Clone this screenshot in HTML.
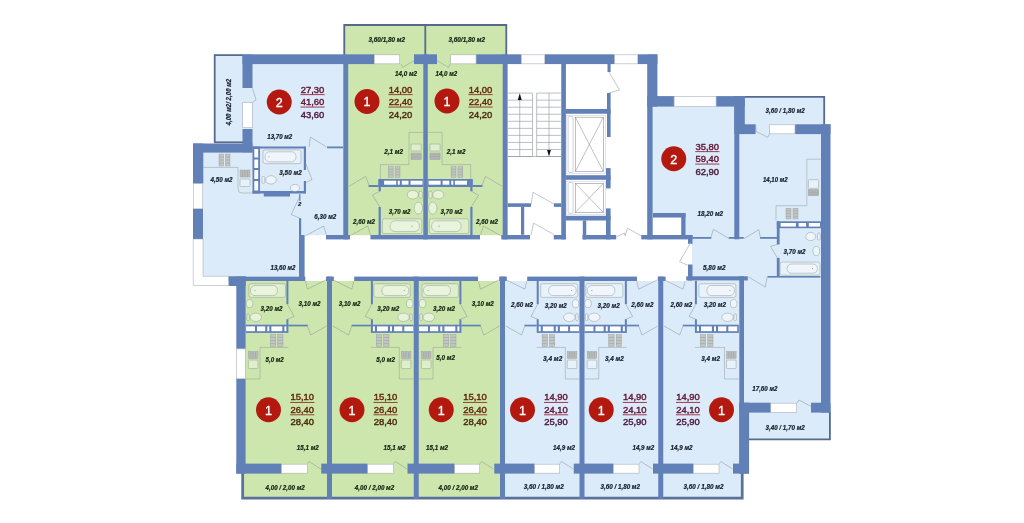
<!DOCTYPE html>
<html lang="ru"><head><meta charset="utf-8"><title>План этажа</title>
<style>
html,body{margin:0;padding:0;background:#fff;}
body{width:1024px;height:523px;overflow:hidden;}
svg{display:block;font-family:"Liberation Sans",sans-serif;filter:blur(0.35px);}
.lb{font-size:7.1px;font-weight:bold;font-style:italic;fill:#141c2a;stroke:#141c2a;stroke-width:0.2px;}
.lg{font-size:7.1px;font-weight:bold;font-style:italic;fill:#12200f;stroke:#12200f;stroke-width:0.2px;}
.nb{font-size:8.5px;fill:#64193a;stroke:#64193a;stroke-width:0.4px;}
.ng{font-size:8.5px;fill:#642a10;stroke:#642a10;stroke-width:0.4px;}
.cn{font-size:12.5px;fill:#fff;stroke:#fff;stroke-width:0.35px;text-anchor:middle;}
</style></head><body>
<svg width="1024" height="523" viewBox="0 0 1024 523">
<rect x="214" y="54.5" width="29" height="88" fill="#dcebf9" />
<rect x="243" y="63" width="101" height="172.3" fill="#dcebf9" />
<rect x="203" y="152" width="97" height="124.5" fill="#dcebf9" />
<rect x="343.5" y="24.3" width="163.5" height="30.7" fill="#cde6ae" />
<rect x="347" y="54.5" width="156" height="180.8" fill="#cde6ae" />
<rect x="652" y="106.4" width="170" height="132.6" fill="#dcebf9" />
<rect x="744.5" y="96.25" width="80.2" height="28.25" fill="#dcebf9" />
<rect x="692" y="238" width="130" height="42" fill="#dcebf9" />
<rect x="743" y="276" width="79" height="136.6" fill="#dcebf9" />
<rect x="748.75" y="412" width="81.65" height="27.9" fill="#dcebf9" />
<rect x="653" y="217.5" width="28.5" height="17.5" fill="#fff" />
<rect x="241.5" y="281" width="261" height="217.5" fill="#cde6ae" />
<rect x="502.5" y="281" width="241" height="217.5" fill="#dcebf9" />
<polyline points="214.7,142.5 214.7,55.2 243,55.2" fill="none" stroke="#566a8e" stroke-width="1.8"/>
<polyline points="214,142.3 243,142.3" fill="none" stroke="#566a8e" stroke-width="1.8"/>
<polyline points="344.3,55 344.3,25 506.3,25 506.3,55" fill="none" stroke="#566a8e" stroke-width="1.8"/>
<polyline points="425.3,25 425.3,55" fill="none" stroke="#566a8e" stroke-width="1.8"/>
<polyline points="744.5,96.9 824.2,96.9 824.2,124.3" fill="none" stroke="#566a8e" stroke-width="1.8"/>
<polyline points="749,439.4 829.9,439.4 829.9,412" fill="none" stroke="#566a8e" stroke-width="1.8"/>
<polyline points="242.7,473 242.7,498.1 742.2,498.1 742.2,473" fill="none" stroke="#5a719b" stroke-width="2.7"/>
<rect x="242.5" y="54.3" width="131.5" height="9.8" fill="#6180b8" />
<rect x="414" y="54.3" width="23" height="9.8" fill="#6180b8" />
<rect x="476.25" y="54.3" width="45" height="9.8" fill="#6180b8" />
<rect x="545" y="54.3" width="69.5" height="9.8" fill="#6180b8" />
<rect x="638" y="54.3" width="19.4" height="9.8" fill="#6180b8" />
<rect x="374.25" y="54.85" width="25.5" height="9" fill="#fff" stroke="#9aa3ad" stroke-width="0.5"/>
<rect x="450.75" y="54.85" width="25.25" height="9" fill="#fff" stroke="#9aa3ad" stroke-width="0.5"/>
<rect x="521.5" y="54.85" width="23.25" height="9" fill="#fff" stroke="#9aa3ad" stroke-width="0.5"/>
<rect x="614.75" y="54.85" width="23" height="9" fill="#fff" stroke="#9aa3ad" stroke-width="0.5"/>
<rect x="242.5" y="54.5" width="10" height="33.5" fill="#6180b8" />
<rect x="242.75" y="102.75" width="9.5" height="25" fill="#fff" stroke="#9aa3ad" stroke-width="0.5"/>
<rect x="242.5" y="129" width="10" height="23.25" fill="#6180b8" />
<rect x="193" y="143.5" width="59.5" height="9.1" fill="#6180b8" />
<rect x="193" y="143.5" width="10.3" height="40" fill="#6180b8" />
<rect x="193.25" y="183.75" width="9.5" height="25" fill="#fff" stroke="#9aa3ad" stroke-width="0.5"/>
<rect x="193" y="209" width="10" height="30" fill="#6180b8" />
<path d="M193.25 239 H203 V276.3 H228.75 V285.5 H193.25 Z" fill="#fff" stroke="#9aa3ad" stroke-width="0.5"/>
<rect x="343.3" y="63" width="4.9" height="176.4" fill="#6180b8" />
<rect x="423.3" y="54.5" width="4.5" height="184.9" fill="#6180b8" />
<rect x="502.7" y="54.5" width="4.9" height="184.9" fill="#6180b8" />
<rect x="561.25" y="63" width="4.65" height="176.4" fill="#6180b8" />
<rect x="647.2" y="54.5" width="10.2" height="52.1" fill="#6180b8" />
<rect x="647.2" y="106" width="5.4" height="133.4" fill="#6180b8" />
<rect x="326" y="235" width="24" height="4.4" fill="#6180b8" />
<rect x="370.5" y="235" width="109.5" height="4.4" fill="#6180b8" />
<rect x="501.25" y="235" width="28.75" height="4.4" fill="#6180b8" />
<rect x="553.75" y="235" width="12" height="4.4" fill="#6180b8" />
<rect x="582.5" y="235" width="33.75" height="4.4" fill="#6180b8" />
<rect x="641.25" y="235" width="51.25" height="4.4" fill="#6180b8" />
<rect x="299" y="235" width="5.6" height="46" fill="#6180b8" />
<rect x="299" y="218.2" width="2.2" height="16.8" fill="#6180b8" />
<rect x="252.5" y="146.5" width="52.5" height="2" fill="#6180b8" />
<rect x="303.8" y="146.5" width="2.2" height="23.5" fill="#6180b8" />
<rect x="303.8" y="181" width="2.2" height="12.5" fill="#6180b8" />
<rect x="252.5" y="191" width="52.5" height="2.5" fill="#6180b8" />
<rect x="263.75" y="192.5" width="26.25" height="4" fill="#6180b8" />
<rect x="252.5" y="146.5" width="7.5" height="47" fill="#6180b8" />
<rect x="254.3" y="149" width="3.9" height="8.5" fill="#fff" />
<rect x="254.3" y="159.5" width="3.9" height="8.5" fill="#fff" />
<rect x="254.3" y="170" width="3.9" height="9" fill="#fff" />
<rect x="254.3" y="181" width="3.9" height="9.5" fill="#fff" />
<rect x="327" y="146.5" width="16" height="1.8" fill="#6180b8" />
<polyline points="508,93.1 532.5,93.1" fill="none" stroke="#8e949b" stroke-width="0.6"/>
<polyline points="536.7,93.1 560.8,93.1" fill="none" stroke="#8e949b" stroke-width="0.6"/>
<polyline points="508,100.15 532.5,100.15" fill="none" stroke="#8e949b" stroke-width="0.6"/>
<polyline points="536.7,100.15 560.8,100.15" fill="none" stroke="#8e949b" stroke-width="0.6"/>
<polyline points="508,107.2 532.5,107.2" fill="none" stroke="#8e949b" stroke-width="0.6"/>
<polyline points="536.7,107.2 560.8,107.2" fill="none" stroke="#8e949b" stroke-width="0.6"/>
<polyline points="508,114.25 532.5,114.25" fill="none" stroke="#8e949b" stroke-width="0.6"/>
<polyline points="536.7,114.25 560.8,114.25" fill="none" stroke="#8e949b" stroke-width="0.6"/>
<polyline points="508,121.3 532.5,121.3" fill="none" stroke="#8e949b" stroke-width="0.6"/>
<polyline points="536.7,121.3 560.8,121.3" fill="none" stroke="#8e949b" stroke-width="0.6"/>
<polyline points="508,128.35 532.5,128.35" fill="none" stroke="#8e949b" stroke-width="0.6"/>
<polyline points="536.7,128.35 560.8,128.35" fill="none" stroke="#8e949b" stroke-width="0.6"/>
<polyline points="508,135.4 532.5,135.4" fill="none" stroke="#8e949b" stroke-width="0.6"/>
<polyline points="536.7,135.4 560.8,135.4" fill="none" stroke="#8e949b" stroke-width="0.6"/>
<polyline points="508,142.45 532.5,142.45" fill="none" stroke="#8e949b" stroke-width="0.6"/>
<polyline points="536.7,142.45 560.8,142.45" fill="none" stroke="#8e949b" stroke-width="0.6"/>
<polyline points="508,149.5 532.5,149.5" fill="none" stroke="#8e949b" stroke-width="0.6"/>
<polyline points="536.7,149.5 560.8,149.5" fill="none" stroke="#8e949b" stroke-width="0.6"/>
<polyline points="508,156.55 532.5,156.55" fill="none" stroke="#8e949b" stroke-width="0.6"/>
<polyline points="536.7,156.55 560.8,156.55" fill="none" stroke="#8e949b" stroke-width="0.6"/>
<polyline points="532.5,93.1 532.5,156.5" fill="none" stroke="#8e949b" stroke-width="0.6"/>
<polyline points="536.7,93.1 536.7,156.5" fill="none" stroke="#8e949b" stroke-width="0.6"/>
<polyline points="508,156.5 561,156.5" fill="none" stroke="#8e949b" stroke-width="0.6"/>
<polyline points="519.75,99 519.75,156.5" fill="none" stroke="#8e949b" stroke-width="0.6"/>
<polyline points="549,93.1 549,151" fill="none" stroke="#8e949b" stroke-width="0.6"/>
<path d="M519.75 93.3 L521.7 100 H517.8 Z" fill="#111"/>
<path d="M549 156.5 L550.9 150 H547.1 Z" fill="#111"/>
<rect x="507.5" y="203.3" width="23.5" height="3.6" fill="#6180b8" />
<rect x="553.9" y="203.3" width="7.6" height="3.6" fill="#6180b8" />
<rect x="521" y="206.9" width="3.2" height="27.85" fill="#6180b8" />
<rect x="565.75" y="109" width="44.85" height="4.75" fill="#6180b8" />
<rect x="565.75" y="175.2" width="44.85" height="4.6" fill="#6180b8" />
<rect x="565.75" y="215.8" width="44.85" height="4.7" fill="#6180b8" />
<rect x="582.8" y="220.5" width="3.45" height="18.9" fill="#6180b8" />
<rect x="607.5" y="63.5" width="3.1" height="8.5" fill="#6180b8" />
<rect x="607" y="93" width="3.6" height="44" fill="#6180b8" />
<rect x="606" y="168.1" width="4.6" height="20.3" fill="#6180b8" />
<rect x="606" y="208.4" width="4.6" height="31" fill="#6180b8" />
<rect x="566.6" y="115.3" width="38.8" height="58.2" fill="#fff" stroke="#c5ccd6" stroke-width="0.5"/>
<rect x="568.1" y="116.3" width="5" height="56.2" fill="#fff" stroke="#9aa0a8" stroke-width="0.5" rx="1.5"/>
<rect x="575.3" y="117.2" width="28.1" height="54.4" fill="#fff" stroke="#8e949b" stroke-width="0.6"/>
<polyline points="575.3,117.2 603.4,171.6" fill="none" stroke="#7d848c" stroke-width="0.5"/>
<polyline points="603.4,117.2 575.3,171.6" fill="none" stroke="#7d848c" stroke-width="0.5"/>
<rect x="566.6" y="181.5" width="38.8" height="32.9" fill="#fff" stroke="#c5ccd6" stroke-width="0.5"/>
<rect x="568.1" y="182.5" width="5" height="30.9" fill="#fff" stroke="#9aa0a8" stroke-width="0.5" rx="1.5"/>
<rect x="575.3" y="183.4" width="28.1" height="29.1" fill="#fff" stroke="#8e949b" stroke-width="0.6"/>
<polyline points="575.3,183.4 603.4,212.5" fill="none" stroke="#7d848c" stroke-width="0.5"/>
<polyline points="603.4,183.4 575.3,212.5" fill="none" stroke="#7d848c" stroke-width="0.5"/>
<rect x="647.2" y="96.1" width="26.7" height="10.5" fill="#6180b8" />
<rect x="674.15" y="96.65" width="41.9" height="9.7" fill="#fff" stroke="#9aa3ad" stroke-width="0.5"/>
<rect x="716.3" y="96.1" width="28.5" height="10.5" fill="#6180b8" />
<rect x="734.3" y="96.25" width="5" height="143.05" fill="#6180b8" />
<rect x="734.3" y="96.25" width="10.5" height="37.75" fill="#6180b8" />
<rect x="739" y="124.3" width="16.6" height="9.8" fill="#6180b8" />
<rect x="769.65" y="124.85" width="25.3" height="9" fill="#fff" stroke="#9aa3ad" stroke-width="0.5"/>
<rect x="795.2" y="124.3" width="35.3" height="9.8" fill="#6180b8" />
<rect x="821" y="124.3" width="9.5" height="288.3" fill="#6180b8" />
<rect x="653" y="213" width="32.5" height="4.5" fill="#6180b8" />
<rect x="681.25" y="213" width="4.25" height="25.75" fill="#6180b8" />
<rect x="688" y="235" width="4.5" height="8.75" fill="#6180b8" />
<rect x="688" y="264.5" width="4.5" height="16" fill="#6180b8" />
<rect x="686.25" y="276.3" width="61.55" height="4.2" fill="#6180b8" />
<rect x="767.5" y="276" width="53" height="1.6" fill="#6180b8" />
<rect x="692.5" y="237" width="18.75" height="1.75" fill="#6180b8" />
<rect x="728.75" y="237" width="15" height="1.75" fill="#6180b8" />
<rect x="760" y="237" width="17.5" height="1.75" fill="#6180b8" />
<rect x="776.8" y="221.3" width="2.8" height="23.2" fill="#6180b8" />
<rect x="776.8" y="257.8" width="2.8" height="19.2" fill="#6180b8" />
<rect x="776.8" y="221.3" width="44.5" height="6.9" fill="#6180b8" />
<rect x="780.6" y="223" width="15.3" height="3.6" fill="#fff" />
<rect x="798.6" y="223" width="7.5" height="3.6" fill="#fff" />
<rect x="808.8" y="223" width="11.2" height="3.6" fill="#fff" />
<rect x="739.3" y="276.25" width="4.7" height="197.35" fill="#6180b8" />
<rect x="739.3" y="402.7" width="9.8" height="70.9" fill="#6180b8" />
<rect x="739.3" y="402.7" width="31.3" height="9.9" fill="#6180b8" />
<rect x="770.85" y="403.15" width="25.9" height="9.2" fill="#fff" stroke="#9aa3ad" stroke-width="0.5"/>
<rect x="811" y="402.7" width="19.5" height="9.9" fill="#6180b8" />
<rect x="228.75" y="276.4" width="16.85" height="9.6" fill="#6180b8" />
<rect x="228.75" y="276.6" width="76.55" height="4.4" fill="#6180b8" />
<rect x="326" y="276.6" width="7.9" height="4.4" fill="#6180b8" />
<rect x="354.2" y="276.6" width="123.8" height="4.4" fill="#6180b8" />
<rect x="499.2" y="276.6" width="7.6" height="4.4" fill="#6180b8" />
<rect x="527.2" y="276.6" width="109.8" height="4.4" fill="#6180b8" />
<rect x="657.8" y="276.6" width="7.8" height="4.4" fill="#6180b8" />
<rect x="236.3" y="276.6" width="9.3" height="72.1" fill="#6180b8" />
<rect x="236.55" y="348.95" width="8.8" height="29.8" fill="#fff" stroke="#9aa3ad" stroke-width="0.5"/>
<rect x="236.3" y="379" width="9.3" height="94.6" fill="#6180b8" />
<rect x="327" y="276.6" width="5" height="222.4" fill="#6180b8" />
<rect x="413.75" y="276.6" width="5" height="222.4" fill="#6180b8" />
<rect x="500" y="276.6" width="5" height="222.4" fill="#6180b8" />
<rect x="579.5" y="276.6" width="5" height="222.4" fill="#6180b8" />
<rect x="658.25" y="276.6" width="5" height="222.4" fill="#6180b8" />
<rect x="236.3" y="463.6" width="44.95" height="10" fill="#6180b8" />
<rect x="321.25" y="463.6" width="46.25" height="10" fill="#6180b8" />
<rect x="407.5" y="463.6" width="47" height="10" fill="#6180b8" />
<rect x="494.25" y="463.6" width="40.25" height="10" fill="#6180b8" />
<rect x="573.75" y="463.6" width="39.5" height="10" fill="#6180b8" />
<rect x="653" y="463.6" width="40.25" height="10" fill="#6180b8" />
<rect x="733" y="463.6" width="15.75" height="10" fill="#6180b8" />
<rect x="281.5" y="464.15" width="25.75" height="9" fill="#fff" stroke="#9aa3ad" stroke-width="0.5"/>
<rect x="367.75" y="464.15" width="25.75" height="9" fill="#fff" stroke="#9aa3ad" stroke-width="0.5"/>
<rect x="454.75" y="464.15" width="25" height="9" fill="#fff" stroke="#9aa3ad" stroke-width="0.5"/>
<rect x="534.75" y="464.15" width="25" height="9" fill="#fff" stroke="#9aa3ad" stroke-width="0.5"/>
<rect x="613.5" y="464.15" width="25.5" height="9" fill="#fff" stroke="#9aa3ad" stroke-width="0.5"/>
<rect x="693.5" y="464.15" width="25.5" height="9" fill="#fff" stroke="#9aa3ad" stroke-width="0.5"/>
<rect x="286.4" y="280.75" width="2" height="23.45" fill="#6180b8" />
<rect x="286.4" y="319.2" width="2" height="5.8" fill="#6180b8" />
<rect x="245.7" y="324.7" width="42.7" height="8.2" fill="#6180b8" />
<rect x="284.4" y="326.4" width="2" height="4.8" fill="#fff" />
<rect x="271.4" y="326.4" width="10.9" height="4.8" fill="#fff" />
<rect x="267.3" y="326.4" width="2" height="4.8" fill="#fff" />
<rect x="257" y="326.4" width="8.2" height="4.8" fill="#fff" />
<rect x="246.1" y="326.4" width="8.9" height="4.8" fill="#fff" />
<rect x="288.4" y="324.7" width="19.4" height="1.7" fill="#6180b8" />
<polyline points="305.5,281.2 307.4,289.2 326.2,279.8" fill="none" stroke="#889096" stroke-width="0.5"/>
<polyline points="287.4,304.2 294.2,316.5 287.4,319.2" fill="none" stroke="#889096" stroke-width="0.5"/>
<polyline points="326.4,326.1 310.7,335 307.6,326.4" fill="none" stroke="#889096" stroke-width="0.5"/>
<rect x="249" y="283.7" width="36.4" height="13.7" rx="2" fill="#fff" fill-opacity="0.35" stroke="#929b9b" stroke-width="0.5"/>
<rect x="250.5" y="285.5" width="26.9" height="10.1" rx="4.5" fill="#fff" fill-opacity="0.35" stroke="#929b9b" stroke-width="0.5"/>
<circle cx="255" cy="290.5" r="0.6" fill="#929b9b"/>
<ellipse cx="249.6" cy="303.6" rx="3.3" ry="4.1" fill="#fff" fill-opacity="0.5" stroke="#929b9b" stroke-width="0.5"/>
<ellipse cx="255.8" cy="317.3" rx="5.7" ry="4.2" fill="#fff" fill-opacity="0.5" stroke="#929b9b" stroke-width="0.5"/>
<rect x="246.9" y="313.8" width="2.5" height="6.8" rx="1" fill="#fff" fill-opacity="0.35" stroke="#929b9b" stroke-width="0.5"/>
<polyline points="288.4,347.4 260,347.4 260,379 245.7,379" fill="none" stroke="#929b9b" stroke-width="0.5"/>
<rect x="270.3" y="334.4" width="5.35" height="12.3" rx="0" fill="#c3c7c4" stroke="#929b9b" stroke-width="0.4"/>
<polyline points="270.3,337.475 275.65,337.475" fill="none" stroke="#8b9090" stroke-width="0.4"/>
<polyline points="270.3,340.55 275.65,340.55" fill="none" stroke="#8b9090" stroke-width="0.4"/>
<polyline points="270.3,343.625 275.65,343.625" fill="none" stroke="#8b9090" stroke-width="0.4"/>
<rect x="277.65" y="334.4" width="5.35" height="12.3" rx="0" fill="#c3c7c4" stroke="#929b9b" stroke-width="0.4"/>
<polyline points="277.65,337.475 283,337.475" fill="none" stroke="#8b9090" stroke-width="0.4"/>
<polyline points="277.65,340.55 283,340.55" fill="none" stroke="#8b9090" stroke-width="0.4"/>
<polyline points="277.65,343.625 283,343.625" fill="none" stroke="#8b9090" stroke-width="0.4"/>
<rect x="248.4" y="351.5" width="9.6" height="6.84" rx="0" fill="#b9bdba" stroke="#929b9b" stroke-width="0.4"/>
<polyline points="250.8,352 250.8,357.84" fill="none" stroke="#8b9090" stroke-width="0.4"/>
<polyline points="253.2,352 253.2,357.84" fill="none" stroke="#8b9090" stroke-width="0.4"/>
<polyline points="255.6,352 255.6,357.84" fill="none" stroke="#8b9090" stroke-width="0.4"/>
<rect x="248.4" y="360.05" width="9.6" height="8.55" rx="0.8" fill="#fff" fill-opacity="0.35" stroke="#929b9b" stroke-width="0.5"/>
<rect x="370.9" y="280.75" width="2" height="23.45" fill="#6180b8" />
<rect x="370.9" y="319.2" width="2" height="5.8" fill="#6180b8" />
<rect x="370.9" y="324.7" width="42.7" height="8.2" fill="#6180b8" />
<rect x="372.9" y="326.4" width="2" height="4.8" fill="#fff" />
<rect x="377" y="326.4" width="10.9" height="4.8" fill="#fff" />
<rect x="390" y="326.4" width="2" height="4.8" fill="#fff" />
<rect x="394.1" y="326.4" width="8.2" height="4.8" fill="#fff" />
<rect x="404.3" y="326.4" width="8.9" height="4.8" fill="#fff" />
<rect x="351.5" y="324.7" width="19.4" height="1.7" fill="#6180b8" />
<polyline points="353.8,281.2 351.9,289.2 333.1,279.8" fill="none" stroke="#889096" stroke-width="0.5"/>
<polyline points="371.9,304.2 365.1,316.5 371.9,319.2" fill="none" stroke="#889096" stroke-width="0.5"/>
<polyline points="332.9,326.1 348.6,335 351.7,326.4" fill="none" stroke="#889096" stroke-width="0.5"/>
<rect x="373.9" y="283.7" width="36.4" height="13.7" rx="2" fill="#fff" fill-opacity="0.35" stroke="#929b9b" stroke-width="0.5"/>
<rect x="381.9" y="285.5" width="26.9" height="10.1" rx="4.5" fill="#fff" fill-opacity="0.35" stroke="#929b9b" stroke-width="0.5"/>
<circle cx="404.3" cy="290.5" r="0.6" fill="#929b9b"/>
<ellipse cx="409.7" cy="303.6" rx="3.3" ry="4.1" fill="#fff" fill-opacity="0.5" stroke="#929b9b" stroke-width="0.5"/>
<ellipse cx="403.5" cy="317.3" rx="5.7" ry="4.2" fill="#fff" fill-opacity="0.5" stroke="#929b9b" stroke-width="0.5"/>
<rect x="409.9" y="313.8" width="2.5" height="6.8" rx="1" fill="#fff" fill-opacity="0.35" stroke="#929b9b" stroke-width="0.5"/>
<polyline points="370.9,347.4 399.3,347.4 399.3,379 413.6,379" fill="none" stroke="#929b9b" stroke-width="0.5"/>
<rect x="376.3" y="334.4" width="5.35" height="12.3" rx="0" fill="#c3c7c4" stroke="#929b9b" stroke-width="0.4"/>
<polyline points="376.3,337.475 381.65,337.475" fill="none" stroke="#8b9090" stroke-width="0.4"/>
<polyline points="376.3,340.55 381.65,340.55" fill="none" stroke="#8b9090" stroke-width="0.4"/>
<polyline points="376.3,343.625 381.65,343.625" fill="none" stroke="#8b9090" stroke-width="0.4"/>
<rect x="383.65" y="334.4" width="5.35" height="12.3" rx="0" fill="#c3c7c4" stroke="#929b9b" stroke-width="0.4"/>
<polyline points="383.65,337.475 389,337.475" fill="none" stroke="#8b9090" stroke-width="0.4"/>
<polyline points="383.65,340.55 389,340.55" fill="none" stroke="#8b9090" stroke-width="0.4"/>
<polyline points="383.65,343.625 389,343.625" fill="none" stroke="#8b9090" stroke-width="0.4"/>
<rect x="401.3" y="351.5" width="9.6" height="6.84" rx="0" fill="#b9bdba" stroke="#929b9b" stroke-width="0.4"/>
<polyline points="403.7,352 403.7,357.84" fill="none" stroke="#8b9090" stroke-width="0.4"/>
<polyline points="406.1,352 406.1,357.84" fill="none" stroke="#8b9090" stroke-width="0.4"/>
<polyline points="408.5,352 408.5,357.84" fill="none" stroke="#8b9090" stroke-width="0.4"/>
<rect x="401.3" y="360.05" width="9.6" height="8.55" rx="0.8" fill="#fff" fill-opacity="0.35" stroke="#929b9b" stroke-width="0.5"/>
<rect x="459.4" y="280.75" width="2" height="23.45" fill="#6180b8" />
<rect x="459.4" y="319.2" width="2" height="5.8" fill="#6180b8" />
<rect x="418.7" y="324.7" width="42.7" height="8.2" fill="#6180b8" />
<rect x="457.4" y="326.4" width="2" height="4.8" fill="#fff" />
<rect x="444.4" y="326.4" width="10.9" height="4.8" fill="#fff" />
<rect x="440.3" y="326.4" width="2" height="4.8" fill="#fff" />
<rect x="430" y="326.4" width="8.2" height="4.8" fill="#fff" />
<rect x="419.1" y="326.4" width="8.9" height="4.8" fill="#fff" />
<rect x="461.4" y="324.7" width="19.4" height="1.7" fill="#6180b8" />
<polyline points="478.5,281.2 480.4,289.2 499.2,279.8" fill="none" stroke="#889096" stroke-width="0.5"/>
<polyline points="460.4,304.2 467.2,316.5 460.4,319.2" fill="none" stroke="#889096" stroke-width="0.5"/>
<polyline points="499.4,326.1 483.7,335 480.6,326.4" fill="none" stroke="#889096" stroke-width="0.5"/>
<rect x="422" y="283.7" width="36.4" height="13.7" rx="2" fill="#fff" fill-opacity="0.35" stroke="#929b9b" stroke-width="0.5"/>
<rect x="423.5" y="285.5" width="26.9" height="10.1" rx="4.5" fill="#fff" fill-opacity="0.35" stroke="#929b9b" stroke-width="0.5"/>
<circle cx="428" cy="290.5" r="0.6" fill="#929b9b"/>
<ellipse cx="422.6" cy="303.6" rx="3.3" ry="4.1" fill="#fff" fill-opacity="0.5" stroke="#929b9b" stroke-width="0.5"/>
<ellipse cx="428.8" cy="317.3" rx="5.7" ry="4.2" fill="#fff" fill-opacity="0.5" stroke="#929b9b" stroke-width="0.5"/>
<rect x="419.9" y="313.8" width="2.5" height="6.8" rx="1" fill="#fff" fill-opacity="0.35" stroke="#929b9b" stroke-width="0.5"/>
<polyline points="461.4,347.4 433,347.4 433,379 418.7,379" fill="none" stroke="#929b9b" stroke-width="0.5"/>
<rect x="443.3" y="334.4" width="5.35" height="12.3" rx="0" fill="#c3c7c4" stroke="#929b9b" stroke-width="0.4"/>
<polyline points="443.3,337.475 448.65,337.475" fill="none" stroke="#8b9090" stroke-width="0.4"/>
<polyline points="443.3,340.55 448.65,340.55" fill="none" stroke="#8b9090" stroke-width="0.4"/>
<polyline points="443.3,343.625 448.65,343.625" fill="none" stroke="#8b9090" stroke-width="0.4"/>
<rect x="450.65" y="334.4" width="5.35" height="12.3" rx="0" fill="#c3c7c4" stroke="#929b9b" stroke-width="0.4"/>
<polyline points="450.65,337.475 456,337.475" fill="none" stroke="#8b9090" stroke-width="0.4"/>
<polyline points="450.65,340.55 456,340.55" fill="none" stroke="#8b9090" stroke-width="0.4"/>
<polyline points="450.65,343.625 456,343.625" fill="none" stroke="#8b9090" stroke-width="0.4"/>
<rect x="421.4" y="351.5" width="9.6" height="6.84" rx="0" fill="#b9bdba" stroke="#929b9b" stroke-width="0.4"/>
<polyline points="423.8,352 423.8,357.84" fill="none" stroke="#8b9090" stroke-width="0.4"/>
<polyline points="426.2,352 426.2,357.84" fill="none" stroke="#8b9090" stroke-width="0.4"/>
<polyline points="428.6,352 428.6,357.84" fill="none" stroke="#8b9090" stroke-width="0.4"/>
<rect x="421.4" y="360.05" width="9.6" height="8.55" rx="0.8" fill="#fff" fill-opacity="0.35" stroke="#929b9b" stroke-width="0.5"/>
<rect x="536.7" y="280.75" width="2" height="23.45" fill="#6180b8" />
<rect x="536.7" y="319.2" width="2" height="5.8" fill="#6180b8" />
<rect x="536.7" y="324.7" width="42.9" height="8.2" fill="#6180b8" />
<rect x="538.7" y="326.4" width="2" height="4.8" fill="#fff" />
<rect x="542.8" y="326.4" width="10.9" height="4.8" fill="#fff" />
<rect x="555.8" y="326.4" width="2" height="4.8" fill="#fff" />
<rect x="559.9" y="326.4" width="8.2" height="4.8" fill="#fff" />
<rect x="570.1" y="326.4" width="8.9" height="4.8" fill="#fff" />
<rect x="524.5" y="324.7" width="12.2" height="1.7" fill="#6180b8" />
<polyline points="526.8,281.2 524.9,289.2 506.1,279.8" fill="none" stroke="#889096" stroke-width="0.5"/>
<polyline points="537.7,304.2 530.9,316.5 537.7,319.2" fill="none" stroke="#889096" stroke-width="0.5"/>
<polyline points="505.9,326.1 521.6,335 524.7,326.4" fill="none" stroke="#889096" stroke-width="0.5"/>
<rect x="540.7" y="283.7" width="37" height="13.7" rx="2" fill="#fff" fill-opacity="0.35" stroke="#929b9b" stroke-width="0.5"/>
<rect x="548.7" y="285.5" width="27.5" height="10.1" rx="4.5" fill="#fff" fill-opacity="0.35" stroke="#929b9b" stroke-width="0.5"/>
<circle cx="571.7" cy="290.5" r="0.6" fill="#929b9b"/>
<ellipse cx="575.5" cy="303.6" rx="3.3" ry="4.1" fill="#fff" fill-opacity="0.5" stroke="#929b9b" stroke-width="0.5"/>
<ellipse cx="569.3" cy="317.3" rx="5.7" ry="4.2" fill="#fff" fill-opacity="0.5" stroke="#929b9b" stroke-width="0.5"/>
<rect x="575.7" y="313.8" width="2.5" height="6.8" rx="1" fill="#fff" fill-opacity="0.35" stroke="#929b9b" stroke-width="0.5"/>
<polyline points="536.7,347.4 565.3,347.4 565.3,379 579.6,379" fill="none" stroke="#929b9b" stroke-width="0.5"/>
<rect x="542.1" y="334.4" width="5.35" height="12.3" rx="0" fill="#c3c7c4" stroke="#929b9b" stroke-width="0.4"/>
<polyline points="542.1,337.475 547.45,337.475" fill="none" stroke="#8b9090" stroke-width="0.4"/>
<polyline points="542.1,340.55 547.45,340.55" fill="none" stroke="#8b9090" stroke-width="0.4"/>
<polyline points="542.1,343.625 547.45,343.625" fill="none" stroke="#8b9090" stroke-width="0.4"/>
<rect x="549.45" y="334.4" width="5.35" height="12.3" rx="0" fill="#c3c7c4" stroke="#929b9b" stroke-width="0.4"/>
<polyline points="549.45,337.475 554.8,337.475" fill="none" stroke="#8b9090" stroke-width="0.4"/>
<polyline points="549.45,340.55 554.8,340.55" fill="none" stroke="#8b9090" stroke-width="0.4"/>
<polyline points="549.45,343.625 554.8,343.625" fill="none" stroke="#8b9090" stroke-width="0.4"/>
<rect x="567.3" y="351.5" width="9.6" height="6.84" rx="0" fill="#b9bdba" stroke="#929b9b" stroke-width="0.4"/>
<polyline points="569.7,352 569.7,357.84" fill="none" stroke="#8b9090" stroke-width="0.4"/>
<polyline points="572.1,352 572.1,357.84" fill="none" stroke="#8b9090" stroke-width="0.4"/>
<polyline points="574.5,352 574.5,357.84" fill="none" stroke="#8b9090" stroke-width="0.4"/>
<rect x="567.3" y="360.05" width="9.6" height="8.55" rx="0.8" fill="#fff" fill-opacity="0.35" stroke="#929b9b" stroke-width="0.5"/>
<rect x="624.85" y="280.75" width="2" height="23.45" fill="#6180b8" />
<rect x="624.85" y="319.2" width="2" height="5.8" fill="#6180b8" />
<rect x="584.45" y="324.7" width="42.4" height="8.2" fill="#6180b8" />
<rect x="622.85" y="326.4" width="2" height="4.8" fill="#fff" />
<rect x="609.85" y="326.4" width="10.9" height="4.8" fill="#fff" />
<rect x="605.75" y="326.4" width="2" height="4.8" fill="#fff" />
<rect x="595.45" y="326.4" width="8.2" height="4.8" fill="#fff" />
<rect x="584.85" y="326.4" width="8.6" height="4.8" fill="#fff" />
<rect x="626.85" y="324.7" width="12.2" height="1.7" fill="#6180b8" />
<polyline points="636.75,281.2 638.65,289.2 657.45,279.8" fill="none" stroke="#889096" stroke-width="0.5"/>
<polyline points="625.85,304.2 632.65,316.5 625.85,319.2" fill="none" stroke="#889096" stroke-width="0.5"/>
<polyline points="657.65,326.1 641.95,335 638.85,326.4" fill="none" stroke="#889096" stroke-width="0.5"/>
<rect x="585.85" y="283.7" width="37" height="13.7" rx="2" fill="#fff" fill-opacity="0.35" stroke="#929b9b" stroke-width="0.5"/>
<rect x="587.35" y="285.5" width="27.5" height="10.1" rx="4.5" fill="#fff" fill-opacity="0.35" stroke="#929b9b" stroke-width="0.5"/>
<circle cx="591.85" cy="290.5" r="0.6" fill="#929b9b"/>
<ellipse cx="588.05" cy="303.6" rx="3.3" ry="4.1" fill="#fff" fill-opacity="0.5" stroke="#929b9b" stroke-width="0.5"/>
<ellipse cx="594.25" cy="317.3" rx="5.7" ry="4.2" fill="#fff" fill-opacity="0.5" stroke="#929b9b" stroke-width="0.5"/>
<rect x="585.35" y="313.8" width="2.5" height="6.8" rx="1" fill="#fff" fill-opacity="0.35" stroke="#929b9b" stroke-width="0.5"/>
<polyline points="626.85,347.4 598.75,347.4 598.75,379 584.45,379" fill="none" stroke="#929b9b" stroke-width="0.5"/>
<rect x="608.75" y="334.4" width="5.35" height="12.3" rx="0" fill="#c3c7c4" stroke="#929b9b" stroke-width="0.4"/>
<polyline points="608.75,337.475 614.1,337.475" fill="none" stroke="#8b9090" stroke-width="0.4"/>
<polyline points="608.75,340.55 614.1,340.55" fill="none" stroke="#8b9090" stroke-width="0.4"/>
<polyline points="608.75,343.625 614.1,343.625" fill="none" stroke="#8b9090" stroke-width="0.4"/>
<rect x="616.1" y="334.4" width="5.35" height="12.3" rx="0" fill="#c3c7c4" stroke="#929b9b" stroke-width="0.4"/>
<polyline points="616.1,337.475 621.45,337.475" fill="none" stroke="#8b9090" stroke-width="0.4"/>
<polyline points="616.1,340.55 621.45,340.55" fill="none" stroke="#8b9090" stroke-width="0.4"/>
<polyline points="616.1,343.625 621.45,343.625" fill="none" stroke="#8b9090" stroke-width="0.4"/>
<rect x="587.15" y="351.5" width="9.6" height="6.84" rx="0" fill="#b9bdba" stroke="#929b9b" stroke-width="0.4"/>
<polyline points="589.55,352 589.55,357.84" fill="none" stroke="#8b9090" stroke-width="0.4"/>
<polyline points="591.95,352 591.95,357.84" fill="none" stroke="#8b9090" stroke-width="0.4"/>
<polyline points="594.35,352 594.35,357.84" fill="none" stroke="#8b9090" stroke-width="0.4"/>
<rect x="587.15" y="360.05" width="9.6" height="8.55" rx="0.8" fill="#fff" fill-opacity="0.35" stroke="#929b9b" stroke-width="0.5"/>
<rect x="694.9" y="280.75" width="2" height="23.45" fill="#6180b8" />
<rect x="694.9" y="319.2" width="2" height="5.8" fill="#6180b8" />
<rect x="694.9" y="324.7" width="43.9" height="8.2" fill="#6180b8" />
<rect x="696.9" y="326.4" width="2" height="4.8" fill="#fff" />
<rect x="701" y="326.4" width="10.9" height="4.8" fill="#fff" />
<rect x="714" y="326.4" width="2" height="4.8" fill="#fff" />
<rect x="718.1" y="326.4" width="8.2" height="4.8" fill="#fff" />
<rect x="728.3" y="326.4" width="8.9" height="4.8" fill="#fff" />
<rect x="682.7" y="324.7" width="12.2" height="1.7" fill="#6180b8" />
<polyline points="685,281.2 683.1,289.2 664.3,279.8" fill="none" stroke="#889096" stroke-width="0.5"/>
<polyline points="695.9,304.2 689.1,316.5 695.9,319.2" fill="none" stroke="#889096" stroke-width="0.5"/>
<polyline points="664.1,326.1 679.8,335 682.9,326.4" fill="none" stroke="#889096" stroke-width="0.5"/>
<rect x="698.9" y="283.7" width="37" height="13.7" rx="2" fill="#fff" fill-opacity="0.35" stroke="#929b9b" stroke-width="0.5"/>
<rect x="706.9" y="285.5" width="27.5" height="10.1" rx="4.5" fill="#fff" fill-opacity="0.35" stroke="#929b9b" stroke-width="0.5"/>
<circle cx="729.9" cy="290.5" r="0.6" fill="#929b9b"/>
<ellipse cx="733.7" cy="303.6" rx="3.3" ry="4.1" fill="#fff" fill-opacity="0.5" stroke="#929b9b" stroke-width="0.5"/>
<ellipse cx="727.5" cy="317.3" rx="5.7" ry="4.2" fill="#fff" fill-opacity="0.5" stroke="#929b9b" stroke-width="0.5"/>
<rect x="733.9" y="313.8" width="2.5" height="6.8" rx="1" fill="#fff" fill-opacity="0.35" stroke="#929b9b" stroke-width="0.5"/>
<polyline points="694.9,347.4 724.5,347.4 724.5,379 738.8,379" fill="none" stroke="#929b9b" stroke-width="0.5"/>
<rect x="700.3" y="334.4" width="5.35" height="12.3" rx="0" fill="#c3c7c4" stroke="#929b9b" stroke-width="0.4"/>
<polyline points="700.3,337.475 705.65,337.475" fill="none" stroke="#8b9090" stroke-width="0.4"/>
<polyline points="700.3,340.55 705.65,340.55" fill="none" stroke="#8b9090" stroke-width="0.4"/>
<polyline points="700.3,343.625 705.65,343.625" fill="none" stroke="#8b9090" stroke-width="0.4"/>
<rect x="707.65" y="334.4" width="5.35" height="12.3" rx="0" fill="#c3c7c4" stroke="#929b9b" stroke-width="0.4"/>
<polyline points="707.65,337.475 713,337.475" fill="none" stroke="#8b9090" stroke-width="0.4"/>
<polyline points="707.65,340.55 713,340.55" fill="none" stroke="#8b9090" stroke-width="0.4"/>
<polyline points="707.65,343.625 713,343.625" fill="none" stroke="#8b9090" stroke-width="0.4"/>
<rect x="726.5" y="351.5" width="9.6" height="6.84" rx="0" fill="#b9bdba" stroke="#929b9b" stroke-width="0.4"/>
<polyline points="728.9,352 728.9,357.84" fill="none" stroke="#8b9090" stroke-width="0.4"/>
<polyline points="731.3,352 731.3,357.84" fill="none" stroke="#8b9090" stroke-width="0.4"/>
<polyline points="733.7,352 733.7,357.84" fill="none" stroke="#8b9090" stroke-width="0.4"/>
<rect x="726.5" y="360.05" width="9.6" height="8.55" rx="0.8" fill="#fff" fill-opacity="0.35" stroke="#929b9b" stroke-width="0.5"/>
<rect x="378.6" y="179" width="2.2" height="12.2" fill="#6180b8" />
<rect x="378.6" y="207" width="2.2" height="28.5" fill="#6180b8" />
<rect x="378.4" y="179" width="44.9" height="8" fill="#6180b8" />
<rect x="368.6" y="185" width="9.8" height="2" fill="#6180b8" />
<rect x="384.1" y="180.7" width="12.1" height="4" fill="#fff" />
<rect x="397.8" y="180.7" width="2" height="4" fill="#fff" />
<rect x="401.8" y="180.7" width="6.7" height="4" fill="#fff" />
<rect x="410.5" y="180.7" width="12" height="4" fill="#fff" />
<polyline points="348.9,186.3 365.6,176.4 369.5,186.3" fill="none" stroke="#889096" stroke-width="0.5"/>
<polyline points="350.5,235.5 367.8,226 370.4,234.8" fill="none" stroke="#889096" stroke-width="0.5"/>
<polyline points="379.9,191.2 372.5,195.2 379.9,207" fill="none" stroke="#889096" stroke-width="0.5"/>
<polyline points="401,64 402.6,67.4 414.2,60.5" fill="none" stroke="#889096" stroke-width="0.5"/>
<polyline points="423,132.4 409,132.4 409,164.6 380.4,164.6 380.4,179" fill="none" stroke="#929b9b" stroke-width="0.5"/>
<rect x="388.3" y="166.6" width="4.85" height="10.8" rx="0" fill="#c3c7c4" stroke="#929b9b" stroke-width="0.4"/>
<polyline points="388.3,169.3 393.15,169.3" fill="none" stroke="#8b9090" stroke-width="0.4"/>
<polyline points="388.3,172 393.15,172" fill="none" stroke="#8b9090" stroke-width="0.4"/>
<polyline points="388.3,174.7 393.15,174.7" fill="none" stroke="#8b9090" stroke-width="0.4"/>
<rect x="395.15" y="166.6" width="4.85" height="10.8" rx="0" fill="#c3c7c4" stroke="#929b9b" stroke-width="0.4"/>
<polyline points="395.15,169.3 400,169.3" fill="none" stroke="#8b9090" stroke-width="0.4"/>
<polyline points="395.15,172 400,172" fill="none" stroke="#8b9090" stroke-width="0.4"/>
<polyline points="395.15,174.7 400,174.7" fill="none" stroke="#8b9090" stroke-width="0.4"/>
<rect x="411" y="144" width="10.2" height="7" rx="0.8" fill="#fff" fill-opacity="0.35" stroke="#929b9b" stroke-width="0.5"/>
<rect x="411" y="153" width="10.2" height="6.7" rx="0" fill="#b9bdba" stroke="#929b9b" stroke-width="0.4"/>
<polyline points="411,154.675 421.2,154.675" fill="none" stroke="#8b9090" stroke-width="0.4"/>
<polyline points="411,156.35 421.2,156.35" fill="none" stroke="#8b9090" stroke-width="0.4"/>
<polyline points="411,158.025 421.2,158.025" fill="none" stroke="#8b9090" stroke-width="0.4"/>
<ellipse cx="412.8" cy="194.7" rx="5.6" ry="4.3" fill="#fff" fill-opacity="0.5" stroke="#929b9b" stroke-width="0.5"/>
<rect x="419" y="191.3" width="3.3" height="6.9" rx="1" fill="#fff" fill-opacity="0.35" stroke="#929b9b" stroke-width="0.5"/>
<ellipse cx="418.3" cy="208.1" rx="4.2" ry="6" fill="#fff" fill-opacity="0.5" stroke="#929b9b" stroke-width="0.5"/>
<rect x="382.4" y="218.8" width="39.4" height="14.8" rx="2" fill="#fff" fill-opacity="0.35" stroke="#929b9b" stroke-width="0.5"/>
<rect x="390" y="220.8" width="29.5" height="10.8" rx="5" fill="#fff" fill-opacity="0.35" stroke="#929b9b" stroke-width="0.5"/>
<circle cx="412" cy="226.2" r="0.6" fill="#929b9b"/>
<rect x="470.3" y="179" width="2.2" height="12.2" fill="#6180b8" />
<rect x="470.3" y="207" width="2.2" height="28.5" fill="#6180b8" />
<rect x="427.8" y="179" width="44.9" height="8" fill="#6180b8" />
<rect x="472.7" y="185" width="9.8" height="2" fill="#6180b8" />
<rect x="454.9" y="180.7" width="12.1" height="4" fill="#fff" />
<rect x="451.3" y="180.7" width="2" height="4" fill="#fff" />
<rect x="442.6" y="180.7" width="6.7" height="4" fill="#fff" />
<rect x="428.6" y="180.7" width="12" height="4" fill="#fff" />
<polyline points="502.2,186.3 485.5,176.4 481.6,186.3" fill="none" stroke="#889096" stroke-width="0.5"/>
<polyline points="500.6,235.5 483.3,226 480.7,234.8" fill="none" stroke="#889096" stroke-width="0.5"/>
<polyline points="471.2,191.2 478.6,195.2 471.2,207" fill="none" stroke="#889096" stroke-width="0.5"/>
<polyline points="450.1,64 448.5,67.4 436.9,60.5" fill="none" stroke="#889096" stroke-width="0.5"/>
<polyline points="428.1,132.4 442.1,132.4 442.1,164.6 470.7,164.6 470.7,179" fill="none" stroke="#929b9b" stroke-width="0.5"/>
<rect x="451.1" y="166.6" width="4.85" height="10.8" rx="0" fill="#c3c7c4" stroke="#929b9b" stroke-width="0.4"/>
<polyline points="451.1,169.3 455.95,169.3" fill="none" stroke="#8b9090" stroke-width="0.4"/>
<polyline points="451.1,172 455.95,172" fill="none" stroke="#8b9090" stroke-width="0.4"/>
<polyline points="451.1,174.7 455.95,174.7" fill="none" stroke="#8b9090" stroke-width="0.4"/>
<rect x="457.95" y="166.6" width="4.85" height="10.8" rx="0" fill="#c3c7c4" stroke="#929b9b" stroke-width="0.4"/>
<polyline points="457.95,169.3 462.8,169.3" fill="none" stroke="#8b9090" stroke-width="0.4"/>
<polyline points="457.95,172 462.8,172" fill="none" stroke="#8b9090" stroke-width="0.4"/>
<polyline points="457.95,174.7 462.8,174.7" fill="none" stroke="#8b9090" stroke-width="0.4"/>
<rect x="429.9" y="144" width="10.2" height="7" rx="0.8" fill="#fff" fill-opacity="0.35" stroke="#929b9b" stroke-width="0.5"/>
<rect x="429.9" y="153" width="10.2" height="6.7" rx="0" fill="#b9bdba" stroke="#929b9b" stroke-width="0.4"/>
<polyline points="429.9,154.675 440.1,154.675" fill="none" stroke="#8b9090" stroke-width="0.4"/>
<polyline points="429.9,156.35 440.1,156.35" fill="none" stroke="#8b9090" stroke-width="0.4"/>
<polyline points="429.9,158.025 440.1,158.025" fill="none" stroke="#8b9090" stroke-width="0.4"/>
<ellipse cx="438.3" cy="194.7" rx="5.6" ry="4.3" fill="#fff" fill-opacity="0.5" stroke="#929b9b" stroke-width="0.5"/>
<rect x="428.8" y="191.3" width="3.3" height="6.9" rx="1" fill="#fff" fill-opacity="0.35" stroke="#929b9b" stroke-width="0.5"/>
<ellipse cx="432.8" cy="208.1" rx="4.2" ry="6" fill="#fff" fill-opacity="0.5" stroke="#929b9b" stroke-width="0.5"/>
<rect x="429.3" y="218.8" width="39.4" height="14.8" rx="2" fill="#fff" fill-opacity="0.35" stroke="#929b9b" stroke-width="0.5"/>
<rect x="431.6" y="220.8" width="29.5" height="10.8" rx="5" fill="#fff" fill-opacity="0.35" stroke="#929b9b" stroke-width="0.5"/>
<circle cx="439.1" cy="226.2" r="0.6" fill="#929b9b"/>
<polyline points="252.5,88.3 256,99.8 252.5,102.4" fill="none" stroke="#889096" stroke-width="0.5"/>
<polyline points="326.3,146.8 310.4,137 309.1,147" fill="none" stroke="#889096" stroke-width="0.5"/>
<polyline points="305.5,163 312,179.5 305.5,182.8" fill="none" stroke="#889096" stroke-width="0.5"/>
<polyline points="300,196 291.2,214.5 299.8,218.2" fill="none" stroke="#889096" stroke-width="0.5"/>
<polyline points="299.8,194 299.8,201" fill="none" stroke="#6180b8" stroke-width="1.2"/>
<polyline points="305.2,236 323.6,226 326.3,234.8" fill="none" stroke="#889096" stroke-width="0.5"/>
<rect x="263" y="149.9" width="38" height="13.7" rx="2" fill="#fff" fill-opacity="0.35" stroke="#929b9b" stroke-width="0.5"/>
<rect x="265" y="151.8" width="31" height="10" rx="4.5" fill="#fff" fill-opacity="0.35" stroke="#929b9b" stroke-width="0.5"/>
<circle cx="269" cy="156.8" r="0.6" fill="#929b9b"/>
<ellipse cx="271" cy="179.9" rx="5.3" ry="4.2" fill="#fff" fill-opacity="0.5" stroke="#929b9b" stroke-width="0.5"/>
<rect x="262" y="176.5" width="2.8" height="6.8" rx="1" fill="#fff" fill-opacity="0.35" stroke="#929b9b" stroke-width="0.5"/>
<ellipse cx="295" cy="188" rx="4.6" ry="3.6" fill="#fff" fill-opacity="0.5" stroke="#929b9b" stroke-width="0.5"/>
<rect x="219" y="154" width="4.5" height="12" rx="0" fill="#c3c7c4" stroke="#929b9b" stroke-width="0.4"/>
<polyline points="219,157 223.5,157" fill="none" stroke="#8b9090" stroke-width="0.4"/>
<polyline points="219,160 223.5,160" fill="none" stroke="#8b9090" stroke-width="0.4"/>
<polyline points="219,163 223.5,163" fill="none" stroke="#8b9090" stroke-width="0.4"/>
<rect x="225.5" y="154" width="4.5" height="12" rx="0" fill="#c3c7c4" stroke="#929b9b" stroke-width="0.4"/>
<polyline points="225.5,157 230,157" fill="none" stroke="#8b9090" stroke-width="0.4"/>
<polyline points="225.5,160 230,160" fill="none" stroke="#8b9090" stroke-width="0.4"/>
<polyline points="225.5,163 230,163" fill="none" stroke="#8b9090" stroke-width="0.4"/>
<path d="M203.5 167.4 H238 V189 Q238 193 242 193 H252.5" fill="none" stroke="#929b9b" stroke-width="0.5"/>
<rect x="240" y="170" width="10" height="7" rx="0" fill="#b9bdba" stroke="#929b9b" stroke-width="0.4"/>
<polyline points="242.5,170.4 242.5,176.6" fill="none" stroke="#8b9090" stroke-width="0.4"/>
<polyline points="245,170.4 245,176.6" fill="none" stroke="#8b9090" stroke-width="0.4"/>
<polyline points="247.5,170.4 247.5,176.6" fill="none" stroke="#8b9090" stroke-width="0.4"/>
<rect x="240" y="179" width="10" height="7.5" rx="0.8" fill="#fff" fill-opacity="0.35" stroke="#929b9b" stroke-width="0.5"/>
<polyline points="755.6,124.5 756.2,131.5 767.8,137.3 769.4,134.1" fill="none" stroke="#889096" stroke-width="0.5"/>
<polyline points="710.6,238.6 713.4,229.3 729.1,238.6" fill="none" stroke="#889096" stroke-width="0.5"/>
<polyline points="744,238.6 758.8,229.7 760.6,238.6" fill="none" stroke="#889096" stroke-width="0.5"/>
<polyline points="777.3,244.5 770.5,246.3 777.3,257.8" fill="none" stroke="#889096" stroke-width="0.5"/>
<polyline points="748.6,277 765.3,287.1 767.1,277" fill="none" stroke="#889096" stroke-width="0.5"/>
<polyline points="690,243.7 679.6,261.6 687.8,265.2" fill="none" stroke="#889096" stroke-width="0.5"/>
<polyline points="797,402.9 799,400 811,406.4" fill="none" stroke="#889096" stroke-width="0.5"/>
<path d="M821.5 159.2 H806.8 V205.7 H776 V220.5" fill="none" stroke="#929b9b" stroke-width="0.5"/>
<rect x="808.4" y="179.7" width="10.2" height="8.7" rx="0.8" fill="#fff" fill-opacity="0.35" stroke="#929b9b" stroke-width="0.5"/>
<rect x="808.4" y="189.4" width="10.2" height="6.4" rx="0" fill="#b9bdba" stroke="#929b9b" stroke-width="0.4"/>
<polyline points="808.4,191 818.6,191" fill="none" stroke="#8b9090" stroke-width="0.4"/>
<polyline points="808.4,192.6 818.6,192.6" fill="none" stroke="#8b9090" stroke-width="0.4"/>
<polyline points="808.4,194.2 818.6,194.2" fill="none" stroke="#8b9090" stroke-width="0.4"/>
<rect x="786" y="208.3" width="5" height="10.7" rx="0" fill="#c3c7c4" stroke="#929b9b" stroke-width="0.4"/>
<polyline points="786,210.975 791,210.975" fill="none" stroke="#8b9090" stroke-width="0.4"/>
<polyline points="786,213.65 791,213.65" fill="none" stroke="#8b9090" stroke-width="0.4"/>
<polyline points="786,216.325 791,216.325" fill="none" stroke="#8b9090" stroke-width="0.4"/>
<rect x="793" y="208.3" width="5" height="10.7" rx="0" fill="#c3c7c4" stroke="#929b9b" stroke-width="0.4"/>
<polyline points="793,210.975 798,210.975" fill="none" stroke="#8b9090" stroke-width="0.4"/>
<polyline points="793,213.65 798,213.65" fill="none" stroke="#8b9090" stroke-width="0.4"/>
<polyline points="793,216.325 798,216.325" fill="none" stroke="#8b9090" stroke-width="0.4"/>
<ellipse cx="810.7" cy="236.5" rx="5" ry="4.1" fill="#fff" fill-opacity="0.5" stroke="#929b9b" stroke-width="0.5"/>
<rect x="817.5" y="233" width="2.8" height="7" rx="1" fill="#fff" fill-opacity="0.35" stroke="#929b9b" stroke-width="0.5"/>
<ellipse cx="816.3" cy="251" rx="3.4" ry="4.6" fill="#fff" fill-opacity="0.5" stroke="#929b9b" stroke-width="0.5"/>
<rect x="780.1" y="262.1" width="39.9" height="13" rx="2" fill="#fff" fill-opacity="0.35" stroke="#929b9b" stroke-width="0.5"/>
<rect x="787" y="264" width="30.5" height="9.2" rx="4.5" fill="#fff" fill-opacity="0.35" stroke="#929b9b" stroke-width="0.5"/>
<circle cx="812.5" cy="268.6" r="0.6" fill="#929b9b"/>
<polyline points="531,204.8 533.1,192.3 553.9,204" fill="none" stroke="#889096" stroke-width="0.5"/>
<polyline points="531,235.3 533.6,223.1 553.9,234.5" fill="none" stroke="#889096" stroke-width="0.5"/>
<polyline points="617,236.5 624.4,233 625.1,235.8 627.5,228.2 642.3,236.5" fill="none" stroke="#889096" stroke-width="0.5"/>
<polyline points="609,72 619.5,90 609,93" fill="none" stroke="#889096" stroke-width="0.5"/>
<polyline points="307.5,463.6 309,461.5 321,469" fill="none" stroke="#889096" stroke-width="0.5"/>
<polyline points="393.75,463.6 395.25,461.5 407.25,469" fill="none" stroke="#889096" stroke-width="0.5"/>
<polyline points="480,463.6 481.5,461.5 493.5,469" fill="none" stroke="#889096" stroke-width="0.5"/>
<polyline points="560,463.6 561.5,461.5 573.5,469" fill="none" stroke="#889096" stroke-width="0.5"/>
<polyline points="639.25,463.6 640.75,461.5 652.75,469" fill="none" stroke="#889096" stroke-width="0.5"/>
<polyline points="719.25,463.6 720.75,461.5 732.75,469" fill="none" stroke="#889096" stroke-width="0.5"/>
<circle cx="279.25" cy="102" r="12.5" fill="#b4190f"/>
<text class="cn" x="279.25" y="106.9">2</text>
<text class="nb" x="300.75" y="92.6" textLength="23.6" lengthAdjust="spacingAndGlyphs">27,30</text>
<rect x="300.45" y="94.2" width="24.2" height="0.9" fill="#962a40"/>
<text class="nb" x="300.75" y="105" textLength="23.6" lengthAdjust="spacingAndGlyphs">41,60</text>
<rect x="300.45" y="106.6" width="24.2" height="0.9" fill="#962a40"/>
<text class="nb" x="300.75" y="117.6" textLength="23.6" lengthAdjust="spacingAndGlyphs" style="fill:#4c1c3c;stroke:#4c1c3c">43,60</text>
<circle cx="367" cy="101.5" r="12.5" fill="#b4190f"/>
<text class="cn" x="367" y="106.4">1</text>
<text class="ng" x="388.75" y="92.6" textLength="23.6" lengthAdjust="spacingAndGlyphs">14,00</text>
<rect x="388.45" y="94.2" width="24.2" height="0.9" fill="#86381a"/>
<text class="ng" x="388.75" y="105" textLength="23.6" lengthAdjust="spacingAndGlyphs">22,40</text>
<rect x="388.45" y="106.6" width="24.2" height="0.9" fill="#86381a"/>
<text class="ng" x="388.75" y="117.6" textLength="23.6" lengthAdjust="spacingAndGlyphs" style="fill:#4a2b10;stroke:#4a2b10">24,20</text>
<circle cx="447" cy="101" r="12.5" fill="#b4190f"/>
<text class="cn" x="447" y="105.9">1</text>
<text class="ng" x="468.75" y="92.6" textLength="23.6" lengthAdjust="spacingAndGlyphs">14,00</text>
<rect x="468.45" y="94.2" width="24.2" height="0.9" fill="#86381a"/>
<text class="ng" x="468.75" y="105" textLength="23.6" lengthAdjust="spacingAndGlyphs">22,40</text>
<rect x="468.45" y="106.6" width="24.2" height="0.9" fill="#86381a"/>
<text class="ng" x="468.75" y="117.6" textLength="23.6" lengthAdjust="spacingAndGlyphs" style="fill:#4a2b10;stroke:#4a2b10">24,20</text>
<circle cx="673.75" cy="158.75" r="12.5" fill="#b4190f"/>
<text class="cn" x="673.75" y="163.65">2</text>
<text class="nb" x="695.5" y="149.6" textLength="23.6" lengthAdjust="spacingAndGlyphs">35,80</text>
<rect x="695.2" y="151.2" width="24.2" height="0.9" fill="#962a40"/>
<text class="nb" x="695.5" y="162" textLength="23.6" lengthAdjust="spacingAndGlyphs">59,40</text>
<rect x="695.2" y="163.6" width="24.2" height="0.9" fill="#962a40"/>
<text class="nb" x="695.5" y="174.6" textLength="23.6" lengthAdjust="spacingAndGlyphs" style="fill:#4c1c3c;stroke:#4c1c3c">62,90</text>
<circle cx="268.5" cy="409.75" r="12.5" fill="#b4190f"/>
<text class="cn" x="268.5" y="414.65">1</text>
<text class="ng" x="290.5" y="400.35" textLength="23.6" lengthAdjust="spacingAndGlyphs">15,10</text>
<rect x="290.2" y="401.95" width="24.2" height="0.9" fill="#86381a"/>
<text class="ng" x="290.5" y="412.75" textLength="23.6" lengthAdjust="spacingAndGlyphs">26,40</text>
<rect x="290.2" y="414.35" width="24.2" height="0.9" fill="#86381a"/>
<text class="ng" x="290.5" y="425.35" textLength="23.6" lengthAdjust="spacingAndGlyphs" style="fill:#4a2b10;stroke:#4a2b10">28,40</text>
<circle cx="352" cy="409.75" r="12.5" fill="#b4190f"/>
<text class="cn" x="352" y="414.65">1</text>
<text class="ng" x="373.75" y="400.35" textLength="23.6" lengthAdjust="spacingAndGlyphs">15,10</text>
<rect x="373.45" y="401.95" width="24.2" height="0.9" fill="#86381a"/>
<text class="ng" x="373.75" y="412.75" textLength="23.6" lengthAdjust="spacingAndGlyphs">26,40</text>
<rect x="373.45" y="414.35" width="24.2" height="0.9" fill="#86381a"/>
<text class="ng" x="373.75" y="425.35" textLength="23.6" lengthAdjust="spacingAndGlyphs" style="fill:#4a2b10;stroke:#4a2b10">28,40</text>
<circle cx="441.25" cy="409.75" r="12.5" fill="#b4190f"/>
<text class="cn" x="441.25" y="414.65">1</text>
<text class="ng" x="463.25" y="400.35" textLength="23.6" lengthAdjust="spacingAndGlyphs">15,10</text>
<rect x="462.95" y="401.95" width="24.2" height="0.9" fill="#86381a"/>
<text class="ng" x="463.25" y="412.75" textLength="23.6" lengthAdjust="spacingAndGlyphs">26,40</text>
<rect x="462.95" y="414.35" width="24.2" height="0.9" fill="#86381a"/>
<text class="ng" x="463.25" y="425.35" textLength="23.6" lengthAdjust="spacingAndGlyphs" style="fill:#4a2b10;stroke:#4a2b10">28,40</text>
<circle cx="522.5" cy="409.75" r="12.5" fill="#b4190f"/>
<text class="cn" x="522.5" y="414.65">1</text>
<text class="nb" x="544.25" y="400.35" textLength="23.6" lengthAdjust="spacingAndGlyphs">14,90</text>
<rect x="543.95" y="401.95" width="24.2" height="0.9" fill="#962a40"/>
<text class="nb" x="544.25" y="412.75" textLength="23.6" lengthAdjust="spacingAndGlyphs">24,10</text>
<rect x="543.95" y="414.35" width="24.2" height="0.9" fill="#962a40"/>
<text class="nb" x="544.25" y="425.35" textLength="23.6" lengthAdjust="spacingAndGlyphs" style="fill:#4c1c3c;stroke:#4c1c3c">25,90</text>
<circle cx="601.25" cy="409.75" r="12.5" fill="#b4190f"/>
<text class="cn" x="601.25" y="414.65">1</text>
<text class="nb" x="623" y="400.35" textLength="23.6" lengthAdjust="spacingAndGlyphs">14,90</text>
<rect x="622.7" y="401.95" width="24.2" height="0.9" fill="#962a40"/>
<text class="nb" x="623" y="412.75" textLength="23.6" lengthAdjust="spacingAndGlyphs">24,10</text>
<rect x="622.7" y="414.35" width="24.2" height="0.9" fill="#962a40"/>
<text class="nb" x="623" y="425.35" textLength="23.6" lengthAdjust="spacingAndGlyphs" style="fill:#4c1c3c;stroke:#4c1c3c">25,90</text>
<circle cx="721.5" cy="409.75" r="12.5" fill="#b4190f"/>
<text class="cn" x="721.5" y="414.65">1</text>
<text class="nb" x="676.25" y="400.35" textLength="23.6" lengthAdjust="spacingAndGlyphs">14,90</text>
<rect x="675.95" y="401.95" width="24.2" height="0.9" fill="#962a40"/>
<text class="nb" x="676.25" y="412.75" textLength="23.6" lengthAdjust="spacingAndGlyphs">24,10</text>
<rect x="675.95" y="414.35" width="24.2" height="0.9" fill="#962a40"/>
<text class="nb" x="676.25" y="425.35" textLength="23.6" lengthAdjust="spacingAndGlyphs" style="fill:#4c1c3c;stroke:#4c1c3c">25,90</text>
<text class="lg" x="368.5" y="42.1" textLength="36.5" lengthAdjust="spacingAndGlyphs">3,60/1,80 м2</text>
<text class="lg" x="448.5" y="42.1" textLength="36.5" lengthAdjust="spacingAndGlyphs">3,60/1,80 м2</text>
<text class="lg" x="395" y="76.35" textLength="22" lengthAdjust="spacingAndGlyphs">14,0 м2</text>
<text class="lg" x="435.5" y="76.35" textLength="21.75" lengthAdjust="spacingAndGlyphs">14,0 м2</text>
<text class="lb" x="267.25" y="139.35" textLength="25" lengthAdjust="spacingAndGlyphs">13,70 м2</text>
<text class="lb" transform="translate(231.3,125.5) rotate(-90)" textLength="46.75" lengthAdjust="spacingAndGlyphs">4,00 м2/ 2,00 м2</text>
<text class="lb" x="210.5" y="182.35" textLength="22" lengthAdjust="spacingAndGlyphs">4,50 м2</text>
<text class="lb" x="279.25" y="175.35" textLength="22.5" lengthAdjust="spacingAndGlyphs">3,50 м2</text>
<text class="lb" x="314.25" y="218.6" textLength="22" lengthAdjust="spacingAndGlyphs">6,30 м2</text>
<text class="lg" x="353" y="223.6" textLength="22" lengthAdjust="spacingAndGlyphs">2,60 м2</text>
<text class="lg" x="388.75" y="213.6" textLength="21.75" lengthAdjust="spacingAndGlyphs">3,70 м2</text>
<text class="lg" x="384.25" y="154.1" textLength="18.75" lengthAdjust="spacingAndGlyphs">2,1 м2</text>
<text class="lg" x="446.75" y="154.1" textLength="18.75" lengthAdjust="spacingAndGlyphs">2,1 м2</text>
<text class="lg" x="440.5" y="213.6" textLength="22" lengthAdjust="spacingAndGlyphs">3,70 м2</text>
<text class="lg" x="476" y="223.6" textLength="22" lengthAdjust="spacingAndGlyphs">2,60 м2</text>
<text class="lb" x="298" y="206.3" style="font-size:6px">2</text>
<text class="lb" x="270.5" y="270.35" textLength="25" lengthAdjust="spacingAndGlyphs">13,60 м2</text>
<text class="lg" x="260.5" y="310.85" textLength="22" lengthAdjust="spacingAndGlyphs">3,20 м2</text>
<text class="lg" x="298.5" y="306.35" textLength="22" lengthAdjust="spacingAndGlyphs">3,10 м2</text>
<text class="lg" x="338.75" y="306.35" textLength="21.75" lengthAdjust="spacingAndGlyphs">3,10 м2</text>
<text class="lg" x="377.25" y="310.85" textLength="22" lengthAdjust="spacingAndGlyphs">3,20 м2</text>
<text class="lg" x="433" y="310.85" textLength="22" lengthAdjust="spacingAndGlyphs">3,20 м2</text>
<text class="lg" x="471.75" y="306.35" textLength="22" lengthAdjust="spacingAndGlyphs">3,10 м2</text>
<text class="lg" x="265.5" y="362.1" textLength="18.25" lengthAdjust="spacingAndGlyphs">5,0 м2</text>
<text class="lg" x="376.25" y="362.1" textLength="18.75" lengthAdjust="spacingAndGlyphs">5,0 м2</text>
<text class="lg" x="436.25" y="360.1" textLength="18.75" lengthAdjust="spacingAndGlyphs">5,0 м2</text>
<text class="lb" x="511" y="307.1" textLength="22" lengthAdjust="spacingAndGlyphs">2,60 м2</text>
<text class="lb" x="544.75" y="307.6" textLength="22" lengthAdjust="spacingAndGlyphs">3,20 м2</text>
<text class="lb" x="597.5" y="307.6" textLength="22.25" lengthAdjust="spacingAndGlyphs">3,20 м2</text>
<text class="lb" x="631.25" y="307.1" textLength="22.25" lengthAdjust="spacingAndGlyphs">2,60 м2</text>
<text class="lb" x="670.5" y="306.85" textLength="21.75" lengthAdjust="spacingAndGlyphs">2,60 м2</text>
<text class="lb" x="703.75" y="307.1" textLength="22.25" lengthAdjust="spacingAndGlyphs">3,20 м2</text>
<text class="lb" x="543" y="360.85" textLength="19.25" lengthAdjust="spacingAndGlyphs">3,4 м2</text>
<text class="lb" x="605" y="360.85" textLength="18.75" lengthAdjust="spacingAndGlyphs">3,4 м2</text>
<text class="lb" x="701.25" y="360.85" textLength="18.75" lengthAdjust="spacingAndGlyphs">3,4 м2</text>
<text class="lg" x="296.75" y="449.6" textLength="22" lengthAdjust="spacingAndGlyphs">15,1 м2</text>
<text class="lg" x="383.5" y="449.6" textLength="22" lengthAdjust="spacingAndGlyphs">15,1 м2</text>
<text class="lg" x="426" y="449.6" textLength="22" lengthAdjust="spacingAndGlyphs">15,1 м2</text>
<text class="lb" x="553" y="449.6" textLength="22" lengthAdjust="spacingAndGlyphs">14,9 м2</text>
<text class="lb" x="632.5" y="449.6" textLength="21.75" lengthAdjust="spacingAndGlyphs">14,9 м2</text>
<text class="lb" x="670.5" y="449.6" textLength="22" lengthAdjust="spacingAndGlyphs">14,9 м2</text>
<text class="lg" x="265.5" y="490.1" textLength="39.25" lengthAdjust="spacingAndGlyphs">4,00 / 2,00 м2</text>
<text class="lg" x="354.75" y="490.1" textLength="39.5" lengthAdjust="spacingAndGlyphs">4,00 / 2,00 м2</text>
<text class="lg" x="438.5" y="490.1" textLength="39.5" lengthAdjust="spacingAndGlyphs">4,00 / 2,00 м2</text>
<text class="lb" x="523.75" y="488.85" textLength="40" lengthAdjust="spacingAndGlyphs">3,60 / 1,80 м2</text>
<text class="lb" x="600.5" y="488.85" textLength="39.5" lengthAdjust="spacingAndGlyphs">3,60 / 1,80 м2</text>
<text class="lb" x="683.5" y="489.1" textLength="40" lengthAdjust="spacingAndGlyphs">3,60 / 1,80 м2</text>
<text class="lb" x="765.5" y="112.6" textLength="39.25" lengthAdjust="spacingAndGlyphs">3,60 / 1,80 м2</text>
<text class="lb" x="763" y="181.85" textLength="24.5" lengthAdjust="spacingAndGlyphs">14,10 м2</text>
<text class="lb" x="697.5" y="215.85" textLength="25.5" lengthAdjust="spacingAndGlyphs">18,20 м2</text>
<text class="lb" x="703" y="270.1" textLength="22.5" lengthAdjust="spacingAndGlyphs">5,80 м2</text>
<text class="lb" x="783.5" y="253.85" textLength="22" lengthAdjust="spacingAndGlyphs">3,70 м2</text>
<text class="lb" x="752.25" y="390.85" textLength="25.25" lengthAdjust="spacingAndGlyphs">17,60 м2</text>
<text class="lb" x="765.5" y="429.6" textLength="39.25" lengthAdjust="spacingAndGlyphs">3,40 / 1,70 м2</text>
</svg>
</body></html>
